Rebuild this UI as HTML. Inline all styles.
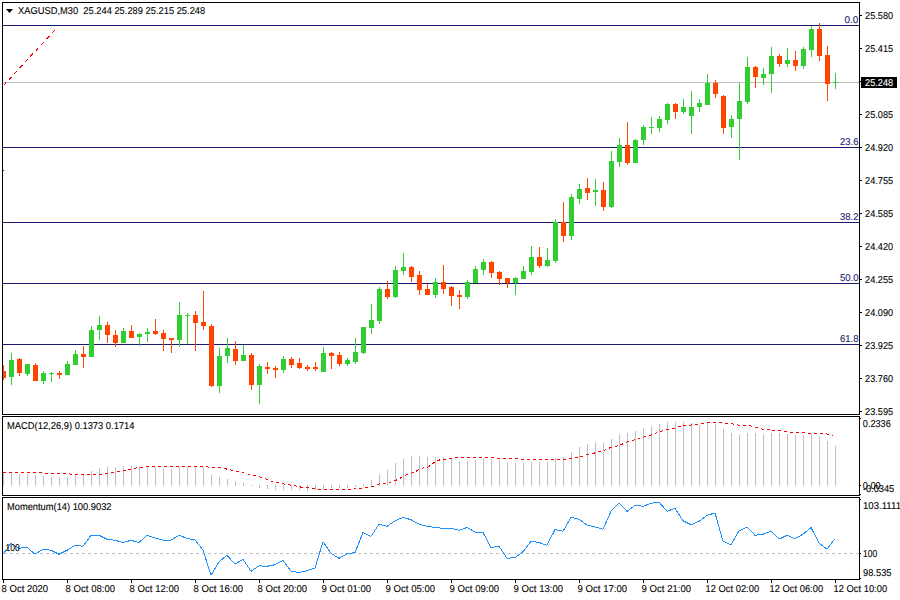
<!DOCTYPE html><html><head><meta charset="utf-8"><style>html,body{margin:0;padding:0;background:#fff;width:900px;height:600px;overflow:hidden}svg{display:block}text{font-family:"Liberation Sans",sans-serif;font-size:9.95px;text-rendering:geometricPrecision}</style></head><body>
<svg width="900" height="600" viewBox="0 0 900 600">
<rect x="0" y="0" width="900" height="600" fill="#fff"/>
<defs><clipPath id="cm"><rect x="3" y="3" width="856" height="411"/></clipPath><clipPath id="cd"><rect x="3" y="417" width="856" height="78"/></clipPath><clipPath id="cp"><rect x="3" y="498" width="856" height="81"/></clipPath></defs>
<g clip-path="url(#cm)" shape-rendering="crispEdges">
<rect x="3" y="25" width="856" height="1" fill="#191970"/>
<rect x="3" y="147" width="856" height="1" fill="#191970"/>
<rect x="3" y="222" width="856" height="1" fill="#191970"/>
<rect x="3" y="283" width="856" height="1" fill="#191970"/>
<rect x="3" y="344" width="856" height="1" fill="#191970"/>
<rect x="3" y="82" width="856" height="1" fill="#C0C0C0"/>
</g>
<g clip-path="url(#cm)"><line x1="2.5" y1="86.5" x2="56.5" y2="28.3" stroke="#FF0000" stroke-width="1.1" stroke-dasharray="4 3.9" stroke-dashoffset="-1.5" shape-rendering="crispEdges"/></g>
<g clip-path="url(#cm)" shape-rendering="crispEdges">
<rect x="3" y="365" width="1" height="15" fill="#FF4500"/>
<rect x="1" y="371" width="5" height="7" fill="#FF4500"/>
<rect x="11" y="353" width="1" height="32" fill="#32CD32"/>
<rect x="9" y="360" width="5" height="17" fill="#32CD32"/>
<rect x="19" y="358" width="1" height="18" fill="#FF4500"/>
<rect x="17" y="359" width="5" height="14" fill="#FF4500"/>
<rect x="27" y="364" width="1" height="12" fill="#32CD32"/>
<rect x="25" y="364" width="5" height="10" fill="#32CD32"/>
<rect x="35" y="363" width="1" height="18" fill="#FF4500"/>
<rect x="33" y="365" width="5" height="16" fill="#FF4500"/>
<rect x="43" y="371" width="1" height="13" fill="#32CD32"/>
<rect x="41" y="373" width="5" height="8" fill="#32CD32"/>
<rect x="51" y="372" width="1" height="10" fill="#32CD32"/>
<rect x="49" y="373" width="5" height="1" fill="#32CD32"/>
<rect x="59" y="371" width="1" height="8" fill="#FF4500"/>
<rect x="57" y="373" width="5" height="2" fill="#FF4500"/>
<rect x="67" y="361" width="1" height="14" fill="#32CD32"/>
<rect x="65" y="364" width="5" height="11" fill="#32CD32"/>
<rect x="75" y="350" width="1" height="15" fill="#32CD32"/>
<rect x="73" y="354" width="5" height="11" fill="#32CD32"/>
<rect x="83" y="346" width="1" height="22" fill="#FF4500"/>
<rect x="81" y="354" width="5" height="3" fill="#FF4500"/>
<rect x="91" y="326" width="1" height="31" fill="#32CD32"/>
<rect x="89" y="330" width="5" height="27" fill="#32CD32"/>
<rect x="99" y="316" width="1" height="24" fill="#32CD32"/>
<rect x="97" y="325" width="5" height="5" fill="#32CD32"/>
<rect x="107" y="322" width="1" height="21" fill="#FF4500"/>
<rect x="105" y="325" width="5" height="10" fill="#FF4500"/>
<rect x="115" y="330" width="1" height="17" fill="#FF4500"/>
<rect x="113" y="335" width="5" height="8" fill="#FF4500"/>
<rect x="123" y="328" width="1" height="15" fill="#32CD32"/>
<rect x="121" y="331" width="5" height="12" fill="#32CD32"/>
<rect x="131" y="325" width="1" height="13" fill="#FF4500"/>
<rect x="129" y="331" width="5" height="7" fill="#FF4500"/>
<rect x="139" y="333" width="1" height="13" fill="#32CD32"/>
<rect x="137" y="334" width="5" height="3" fill="#32CD32"/>
<rect x="147" y="328" width="1" height="14" fill="#32CD32"/>
<rect x="145" y="332" width="5" height="2" fill="#32CD32"/>
<rect x="155" y="319" width="1" height="16" fill="#FF4500"/>
<rect x="153" y="331" width="5" height="3" fill="#FF4500"/>
<rect x="163" y="330" width="1" height="21" fill="#FF4500"/>
<rect x="161" y="333" width="5" height="6" fill="#FF4500"/>
<rect x="171" y="338" width="1" height="15" fill="#FF4500"/>
<rect x="169" y="338" width="5" height="2" fill="#FF4500"/>
<rect x="179" y="302" width="1" height="45" fill="#32CD32"/>
<rect x="177" y="315" width="5" height="25" fill="#32CD32"/>
<rect x="187" y="313" width="1" height="31" fill="#32CD32"/>
<rect x="185" y="315" width="5" height="1" fill="#32CD32"/>
<rect x="195" y="311" width="1" height="40" fill="#FF4500"/>
<rect x="193" y="315" width="5" height="8" fill="#FF4500"/>
<rect x="203" y="291" width="1" height="39" fill="#FF4500"/>
<rect x="201" y="322" width="5" height="4" fill="#FF4500"/>
<rect x="211" y="324" width="1" height="63" fill="#FF4500"/>
<rect x="209" y="326" width="5" height="60" fill="#FF4500"/>
<rect x="219" y="348" width="1" height="45" fill="#32CD32"/>
<rect x="217" y="356" width="5" height="30" fill="#32CD32"/>
<rect x="227" y="338" width="1" height="25" fill="#32CD32"/>
<rect x="225" y="348" width="5" height="8" fill="#32CD32"/>
<rect x="235" y="341" width="1" height="24" fill="#FF4500"/>
<rect x="233" y="349" width="5" height="12" fill="#FF4500"/>
<rect x="243" y="345" width="1" height="16" fill="#32CD32"/>
<rect x="241" y="355" width="5" height="6" fill="#32CD32"/>
<rect x="251" y="353" width="1" height="37" fill="#FF4500"/>
<rect x="249" y="355" width="5" height="30" fill="#FF4500"/>
<rect x="259" y="364" width="1" height="40" fill="#32CD32"/>
<rect x="257" y="366" width="5" height="19" fill="#32CD32"/>
<rect x="267" y="362" width="1" height="12" fill="#FF4500"/>
<rect x="265" y="367" width="5" height="2" fill="#FF4500"/>
<rect x="275" y="366" width="1" height="12" fill="#FF4500"/>
<rect x="273" y="368" width="5" height="2" fill="#FF4500"/>
<rect x="283" y="356" width="1" height="17" fill="#32CD32"/>
<rect x="281" y="359" width="5" height="11" fill="#32CD32"/>
<rect x="291" y="357" width="1" height="11" fill="#FF4500"/>
<rect x="289" y="359" width="5" height="6" fill="#FF4500"/>
<rect x="299" y="358" width="1" height="11" fill="#FF4500"/>
<rect x="297" y="363" width="5" height="5" fill="#FF4500"/>
<rect x="307" y="365" width="1" height="6" fill="#FF4500"/>
<rect x="305" y="367" width="5" height="2" fill="#FF4500"/>
<rect x="315" y="362" width="1" height="9" fill="#FF4500"/>
<rect x="313" y="367" width="5" height="2" fill="#FF4500"/>
<rect x="323" y="347" width="1" height="25" fill="#32CD32"/>
<rect x="321" y="353" width="5" height="19" fill="#32CD32"/>
<rect x="331" y="352" width="1" height="17" fill="#FF4500"/>
<rect x="329" y="353" width="5" height="3" fill="#FF4500"/>
<rect x="339" y="352" width="1" height="14" fill="#FF4500"/>
<rect x="337" y="355" width="5" height="9" fill="#FF4500"/>
<rect x="347" y="358" width="1" height="8" fill="#32CD32"/>
<rect x="345" y="360" width="5" height="4" fill="#32CD32"/>
<rect x="355" y="338" width="1" height="26" fill="#32CD32"/>
<rect x="353" y="352" width="5" height="10" fill="#32CD32"/>
<rect x="363" y="327" width="1" height="27" fill="#32CD32"/>
<rect x="361" y="327" width="5" height="26" fill="#32CD32"/>
<rect x="371" y="304" width="1" height="30" fill="#32CD32"/>
<rect x="369" y="320" width="5" height="8" fill="#32CD32"/>
<rect x="379" y="287" width="1" height="37" fill="#32CD32"/>
<rect x="377" y="289" width="5" height="32" fill="#32CD32"/>
<rect x="387" y="281" width="1" height="18" fill="#FF4500"/>
<rect x="385" y="289" width="5" height="8" fill="#FF4500"/>
<rect x="395" y="266" width="1" height="32" fill="#32CD32"/>
<rect x="393" y="270" width="5" height="27" fill="#32CD32"/>
<rect x="403" y="253" width="1" height="22" fill="#32CD32"/>
<rect x="401" y="267" width="5" height="4" fill="#32CD32"/>
<rect x="411" y="266" width="1" height="16" fill="#FF4500"/>
<rect x="409" y="267" width="5" height="10" fill="#FF4500"/>
<rect x="419" y="271" width="1" height="24" fill="#FF4500"/>
<rect x="417" y="275" width="5" height="15" fill="#FF4500"/>
<rect x="427" y="284" width="1" height="11" fill="#FF4500"/>
<rect x="425" y="289" width="5" height="6" fill="#FF4500"/>
<rect x="435" y="278" width="1" height="20" fill="#32CD32"/>
<rect x="433" y="282" width="5" height="13" fill="#32CD32"/>
<rect x="443" y="265" width="1" height="29" fill="#FF4500"/>
<rect x="441" y="282" width="5" height="7" fill="#FF4500"/>
<rect x="451" y="286" width="1" height="20" fill="#FF4500"/>
<rect x="449" y="287" width="5" height="9" fill="#FF4500"/>
<rect x="459" y="290" width="1" height="19" fill="#FF4500"/>
<rect x="457" y="295" width="5" height="2" fill="#FF4500"/>
<rect x="467" y="280" width="1" height="19" fill="#32CD32"/>
<rect x="465" y="282" width="5" height="15" fill="#32CD32"/>
<rect x="475" y="266" width="1" height="17" fill="#32CD32"/>
<rect x="473" y="269" width="5" height="14" fill="#32CD32"/>
<rect x="483" y="259" width="1" height="16" fill="#32CD32"/>
<rect x="481" y="262" width="5" height="8" fill="#32CD32"/>
<rect x="491" y="261" width="1" height="17" fill="#FF4500"/>
<rect x="489" y="262" width="5" height="11" fill="#FF4500"/>
<rect x="499" y="271" width="1" height="14" fill="#FF4500"/>
<rect x="497" y="272" width="5" height="7" fill="#FF4500"/>
<rect x="507" y="278" width="1" height="10" fill="#FF4500"/>
<rect x="505" y="278" width="5" height="5" fill="#FF4500"/>
<rect x="515" y="277" width="1" height="18" fill="#32CD32"/>
<rect x="513" y="278" width="5" height="5" fill="#32CD32"/>
<rect x="523" y="266" width="1" height="13" fill="#32CD32"/>
<rect x="521" y="271" width="5" height="8" fill="#32CD32"/>
<rect x="531" y="246" width="1" height="29" fill="#32CD32"/>
<rect x="529" y="257" width="5" height="15" fill="#32CD32"/>
<rect x="539" y="247" width="1" height="21" fill="#FF4500"/>
<rect x="537" y="257" width="5" height="9" fill="#FF4500"/>
<rect x="547" y="248" width="1" height="19" fill="#32CD32"/>
<rect x="545" y="260" width="5" height="6" fill="#32CD32"/>
<rect x="555" y="219" width="1" height="44" fill="#32CD32"/>
<rect x="553" y="222" width="5" height="39" fill="#32CD32"/>
<rect x="563" y="202" width="1" height="40" fill="#FF4500"/>
<rect x="561" y="222" width="5" height="14" fill="#FF4500"/>
<rect x="571" y="194" width="1" height="46" fill="#32CD32"/>
<rect x="569" y="197" width="5" height="39" fill="#32CD32"/>
<rect x="579" y="184" width="1" height="20" fill="#32CD32"/>
<rect x="577" y="189" width="5" height="10" fill="#32CD32"/>
<rect x="587" y="178" width="1" height="22" fill="#FF4500"/>
<rect x="585" y="188" width="5" height="5" fill="#FF4500"/>
<rect x="595" y="179" width="1" height="27" fill="#32CD32"/>
<rect x="593" y="190" width="5" height="2" fill="#32CD32"/>
<rect x="603" y="182" width="1" height="29" fill="#FF4500"/>
<rect x="601" y="190" width="5" height="17" fill="#FF4500"/>
<rect x="611" y="151" width="1" height="57" fill="#32CD32"/>
<rect x="609" y="161" width="5" height="46" fill="#32CD32"/>
<rect x="619" y="138" width="1" height="29" fill="#32CD32"/>
<rect x="617" y="145" width="5" height="17" fill="#32CD32"/>
<rect x="627" y="122" width="1" height="43" fill="#FF4500"/>
<rect x="625" y="145" width="5" height="18" fill="#FF4500"/>
<rect x="635" y="139" width="1" height="24" fill="#32CD32"/>
<rect x="633" y="140" width="5" height="23" fill="#32CD32"/>
<rect x="643" y="125" width="1" height="20" fill="#32CD32"/>
<rect x="641" y="127" width="5" height="13" fill="#32CD32"/>
<rect x="651" y="117" width="1" height="17" fill="#32CD32"/>
<rect x="649" y="127" width="5" height="1" fill="#32CD32"/>
<rect x="659" y="116" width="1" height="16" fill="#32CD32"/>
<rect x="657" y="119" width="5" height="9" fill="#32CD32"/>
<rect x="667" y="103" width="1" height="21" fill="#32CD32"/>
<rect x="665" y="104" width="5" height="16" fill="#32CD32"/>
<rect x="675" y="103" width="1" height="16" fill="#FF4500"/>
<rect x="673" y="104" width="5" height="8" fill="#FF4500"/>
<rect x="683" y="99" width="1" height="15" fill="#32CD32"/>
<rect x="681" y="107" width="5" height="5" fill="#32CD32"/>
<rect x="691" y="91" width="1" height="43" fill="#32CD32"/>
<rect x="689" y="107" width="5" height="9" fill="#32CD32"/>
<rect x="699" y="99" width="1" height="13" fill="#32CD32"/>
<rect x="697" y="103" width="5" height="4" fill="#32CD32"/>
<rect x="707" y="74" width="1" height="31" fill="#32CD32"/>
<rect x="705" y="83" width="5" height="22" fill="#32CD32"/>
<rect x="715" y="80" width="1" height="18" fill="#FF4500"/>
<rect x="713" y="83" width="5" height="11" fill="#FF4500"/>
<rect x="723" y="95" width="1" height="39" fill="#FF4500"/>
<rect x="721" y="96" width="5" height="32" fill="#FF4500"/>
<rect x="731" y="115" width="1" height="23" fill="#32CD32"/>
<rect x="729" y="119" width="5" height="8" fill="#32CD32"/>
<rect x="739" y="83" width="1" height="77" fill="#32CD32"/>
<rect x="737" y="101" width="5" height="18" fill="#32CD32"/>
<rect x="747" y="57" width="1" height="47" fill="#32CD32"/>
<rect x="745" y="67" width="5" height="35" fill="#32CD32"/>
<rect x="755" y="66" width="1" height="22" fill="#FF4500"/>
<rect x="753" y="67" width="5" height="10" fill="#FF4500"/>
<rect x="763" y="68" width="1" height="17" fill="#32CD32"/>
<rect x="761" y="74" width="5" height="4" fill="#32CD32"/>
<rect x="771" y="47" width="1" height="46" fill="#32CD32"/>
<rect x="769" y="56" width="5" height="18" fill="#32CD32"/>
<rect x="779" y="54" width="1" height="13" fill="#FF4500"/>
<rect x="777" y="56" width="5" height="8" fill="#FF4500"/>
<rect x="787" y="48" width="1" height="19" fill="#32CD32"/>
<rect x="785" y="60" width="5" height="4" fill="#32CD32"/>
<rect x="795" y="51" width="1" height="20" fill="#FF4500"/>
<rect x="793" y="60" width="5" height="6" fill="#FF4500"/>
<rect x="803" y="47" width="1" height="22" fill="#32CD32"/>
<rect x="801" y="49" width="5" height="17" fill="#32CD32"/>
<rect x="811" y="26" width="1" height="31" fill="#32CD32"/>
<rect x="809" y="29" width="5" height="21" fill="#32CD32"/>
<rect x="819" y="23" width="1" height="38" fill="#FF4500"/>
<rect x="817" y="29" width="5" height="27" fill="#FF4500"/>
<rect x="827" y="46" width="1" height="55" fill="#FF4500"/>
<rect x="825" y="55" width="5" height="29" fill="#FF4500"/>
<rect x="835" y="73" width="1" height="16" fill="#32CD32"/>
<rect x="833" y="82" width="5" height="1" fill="#32CD32"/>
</g>
<g clip-path="url(#cd)" shape-rendering="crispEdges">
<rect x="3" y="472" width="1" height="14" fill="#C0C0C0"/>
<rect x="11" y="472" width="1" height="14" fill="#C0C0C0"/>
<rect x="19" y="474" width="1" height="12" fill="#C0C0C0"/>
<rect x="27" y="474" width="1" height="12" fill="#C0C0C0"/>
<rect x="35" y="475" width="1" height="11" fill="#C0C0C0"/>
<rect x="43" y="476" width="1" height="10" fill="#C0C0C0"/>
<rect x="51" y="477" width="1" height="9" fill="#C0C0C0"/>
<rect x="59" y="477" width="1" height="9" fill="#C0C0C0"/>
<rect x="67" y="477" width="1" height="9" fill="#C0C0C0"/>
<rect x="75" y="474" width="1" height="12" fill="#C0C0C0"/>
<rect x="83" y="475" width="1" height="11" fill="#C0C0C0"/>
<rect x="91" y="471" width="1" height="15" fill="#C0C0C0"/>
<rect x="99" y="468" width="1" height="18" fill="#C0C0C0"/>
<rect x="107" y="467" width="1" height="19" fill="#C0C0C0"/>
<rect x="115" y="467" width="1" height="19" fill="#C0C0C0"/>
<rect x="123" y="466" width="1" height="20" fill="#C0C0C0"/>
<rect x="131" y="466" width="1" height="20" fill="#C0C0C0"/>
<rect x="139" y="466" width="1" height="20" fill="#C0C0C0"/>
<rect x="147" y="467" width="1" height="19" fill="#C0C0C0"/>
<rect x="155" y="467" width="1" height="19" fill="#C0C0C0"/>
<rect x="163" y="468" width="1" height="18" fill="#C0C0C0"/>
<rect x="171" y="469" width="1" height="17" fill="#C0C0C0"/>
<rect x="179" y="467" width="1" height="19" fill="#C0C0C0"/>
<rect x="187" y="467" width="1" height="19" fill="#C0C0C0"/>
<rect x="195" y="467" width="1" height="19" fill="#C0C0C0"/>
<rect x="203" y="467" width="1" height="19" fill="#C0C0C0"/>
<rect x="211" y="475" width="1" height="11" fill="#C0C0C0"/>
<rect x="219" y="477" width="1" height="9" fill="#C0C0C0"/>
<rect x="227" y="479" width="1" height="7" fill="#C0C0C0"/>
<rect x="235" y="481" width="1" height="5" fill="#C0C0C0"/>
<rect x="243" y="483" width="1" height="3" fill="#C0C0C0"/>
<rect x="251" y="485" width="1" height="1" fill="#C0C0C0"/>
<rect x="259" y="485" width="1" height="3" fill="#C0C0C0"/>
<rect x="267" y="485" width="1" height="4" fill="#C0C0C0"/>
<rect x="275" y="485" width="1" height="5" fill="#C0C0C0"/>
<rect x="283" y="485" width="1" height="5" fill="#C0C0C0"/>
<rect x="291" y="485" width="1" height="5" fill="#C0C0C0"/>
<rect x="299" y="485" width="1" height="5" fill="#C0C0C0"/>
<rect x="307" y="485" width="1" height="6" fill="#C0C0C0"/>
<rect x="315" y="485" width="1" height="5" fill="#C0C0C0"/>
<rect x="323" y="485" width="1" height="4" fill="#C0C0C0"/>
<rect x="331" y="485" width="1" height="3" fill="#C0C0C0"/>
<rect x="339" y="485" width="1" height="3" fill="#C0C0C0"/>
<rect x="347" y="485" width="1" height="3" fill="#C0C0C0"/>
<rect x="355" y="485" width="1" height="2" fill="#C0C0C0"/>
<rect x="363" y="484" width="1" height="2" fill="#C0C0C0"/>
<rect x="371" y="480" width="1" height="6" fill="#C0C0C0"/>
<rect x="379" y="474" width="1" height="12" fill="#C0C0C0"/>
<rect x="387" y="470" width="1" height="16" fill="#C0C0C0"/>
<rect x="395" y="463" width="1" height="23" fill="#C0C0C0"/>
<rect x="403" y="459" width="1" height="27" fill="#C0C0C0"/>
<rect x="411" y="456" width="1" height="30" fill="#C0C0C0"/>
<rect x="419" y="456" width="1" height="30" fill="#C0C0C0"/>
<rect x="427" y="457" width="1" height="29" fill="#C0C0C0"/>
<rect x="435" y="457" width="1" height="29" fill="#C0C0C0"/>
<rect x="443" y="457" width="1" height="29" fill="#C0C0C0"/>
<rect x="451" y="459" width="1" height="27" fill="#C0C0C0"/>
<rect x="459" y="461" width="1" height="25" fill="#C0C0C0"/>
<rect x="467" y="461" width="1" height="25" fill="#C0C0C0"/>
<rect x="475" y="460" width="1" height="26" fill="#C0C0C0"/>
<rect x="483" y="458" width="1" height="28" fill="#C0C0C0"/>
<rect x="491" y="459" width="1" height="27" fill="#C0C0C0"/>
<rect x="499" y="460" width="1" height="26" fill="#C0C0C0"/>
<rect x="507" y="462" width="1" height="24" fill="#C0C0C0"/>
<rect x="515" y="463" width="1" height="23" fill="#C0C0C0"/>
<rect x="523" y="463" width="1" height="23" fill="#C0C0C0"/>
<rect x="531" y="462" width="1" height="24" fill="#C0C0C0"/>
<rect x="539" y="462" width="1" height="24" fill="#C0C0C0"/>
<rect x="547" y="462" width="1" height="24" fill="#C0C0C0"/>
<rect x="555" y="458" width="1" height="28" fill="#C0C0C0"/>
<rect x="563" y="457" width="1" height="29" fill="#C0C0C0"/>
<rect x="571" y="452" width="1" height="34" fill="#C0C0C0"/>
<rect x="579" y="447" width="1" height="39" fill="#C0C0C0"/>
<rect x="587" y="444" width="1" height="42" fill="#C0C0C0"/>
<rect x="595" y="442" width="1" height="44" fill="#C0C0C0"/>
<rect x="603" y="443" width="1" height="43" fill="#C0C0C0"/>
<rect x="611" y="439" width="1" height="47" fill="#C0C0C0"/>
<rect x="619" y="434" width="1" height="52" fill="#C0C0C0"/>
<rect x="627" y="433" width="1" height="53" fill="#C0C0C0"/>
<rect x="635" y="431" width="1" height="55" fill="#C0C0C0"/>
<rect x="643" y="428" width="1" height="58" fill="#C0C0C0"/>
<rect x="651" y="426" width="1" height="60" fill="#C0C0C0"/>
<rect x="659" y="424" width="1" height="62" fill="#C0C0C0"/>
<rect x="667" y="422" width="1" height="64" fill="#C0C0C0"/>
<rect x="675" y="422" width="1" height="64" fill="#C0C0C0"/>
<rect x="683" y="422" width="1" height="64" fill="#C0C0C0"/>
<rect x="691" y="423" width="1" height="63" fill="#C0C0C0"/>
<rect x="699" y="425" width="1" height="61" fill="#C0C0C0"/>
<rect x="707" y="423" width="1" height="63" fill="#C0C0C0"/>
<rect x="715" y="424" width="1" height="62" fill="#C0C0C0"/>
<rect x="723" y="429" width="1" height="57" fill="#C0C0C0"/>
<rect x="731" y="433" width="1" height="53" fill="#C0C0C0"/>
<rect x="739" y="435" width="1" height="51" fill="#C0C0C0"/>
<rect x="747" y="433" width="1" height="53" fill="#C0C0C0"/>
<rect x="755" y="433" width="1" height="53" fill="#C0C0C0"/>
<rect x="763" y="434" width="1" height="52" fill="#C0C0C0"/>
<rect x="771" y="433" width="1" height="53" fill="#C0C0C0"/>
<rect x="779" y="433" width="1" height="53" fill="#C0C0C0"/>
<rect x="787" y="434" width="1" height="52" fill="#C0C0C0"/>
<rect x="795" y="435" width="1" height="51" fill="#C0C0C0"/>
<rect x="803" y="435" width="1" height="51" fill="#C0C0C0"/>
<rect x="811" y="434" width="1" height="52" fill="#C0C0C0"/>
<rect x="819" y="436" width="1" height="50" fill="#C0C0C0"/>
<rect x="827" y="441" width="1" height="45" fill="#C0C0C0"/>
<rect x="835" y="446" width="1" height="40" fill="#C0C0C0"/>
</g>
<g clip-path="url(#cd)"><polyline points="3,472.0 35,472.8 60,473.5 85,474.8 100,474.5 115,472.0 125,470.3 135,468.2 147,466.5 206,466.5 208,467.0 222,468.0 245,473.2 252,475.0 262,477.5 273,481.8 287,484.5 295,485.8 298,486.7 307,487.8 323,489.8 347,489.8 357,488.7 365,487.8 373,486.5 380,483.7 390,482.5 397,479.8 407,474.5 415,472.0 420,468.7 428,467.0 435,462.0 440,459.8 450,458.7 456.7,457.0 485,457.0 490,457.8 516.7,458.7 521.7,459.8 563.3,459.8 571.7,458.7 580,457.0 586.7,454.8 591.7,454.2 596.7,452.0 603.3,450.8 610,447.8 618.3,445.8 623.3,443.7 628.3,441.5 635,439.8 641.7,437.8 650,435.3 658.3,432.0 666.7,429.5 675,428.2 681.7,425.8 693.3,424.8 700,423.7 711.7,422.0 723,422.8 733.3,424.0 738.3,425.0 750,425.8 756.7,427.8 763.3,429.2 775,430.3 783.3,431.2 790,432.0 826.7,434.0 833.3,435.3" fill="none" stroke="#FF0000" stroke-width="1" stroke-dasharray="3 3" shape-rendering="crispEdges"/></g>
<g clip-path="url(#cp)">
<line x1="4" y1="553.5" x2="859" y2="553.5" stroke="#C0C0C0" stroke-width="1" stroke-dasharray="3 3" shape-rendering="crispEdges"/>
<polyline points="3,554.3 11,543.3 19,548.3 27,547.3 35,554.2 43,549.2 51,550.3 59,554.2 67,550.3 75,545.3 83,546.3 91,535.3 99,535.3 107,539.2 115,540.3 123,542.5 131,540.3 139,542.5 147,535.3 155,538 163,540 171,540 179,535.3 187,538.3 195,540 203,550 211,575.3 219,561.7 227,555.3 235,564.2 243,559.2 251,571.3 259,565.8 267,566.3 275,564.7 283,560.3 291,571.3 299,572.5 307,570.8 315,568 323,541.7 331,553.3 339,558.3 347,553.7 355,552.5 363,532.5 371,536.3 379,524.2 387,526.3 395,520.8 403,517.5 411,519.7 419,524.2 427,526.3 435,527.5 443,528.3 451,528.3 459,530.3 467,527.5 475,532 483,532.5 491,547.5 499,546.3 507,558.3 515,557.5 523,551.7 531,541.3 539,542.5 547,545.3 555,529.5 563,531.3 571,517.2 579,519.2 587,525 595,527 603,529.2 611,511.3 619,503 627,511.3 635,505.3 643,506.3 651,503.3 659,502 667,511.3 675,508.3 683,520.8 691,524.7 699,521.3 707,515.3 715,513 723,541.2 731,544.7 739,530.8 747,527 755,535.3 763,534.2 771,531.3 779,539.2 787,535.3 795,538.7 803,534.2 811,527.5 819,543 827,549.2 835,538.7" fill="none" stroke="#1E90FF" stroke-width="1" shape-rendering="crispEdges"/>
</g>
<g shape-rendering="crispEdges" fill="#000">
<rect x="2" y="2" width="858" height="1"/>
<rect x="2" y="414" width="858" height="1"/>
<rect x="2" y="2" width="1" height="413"/>
<rect x="859" y="2" width="1" height="413"/>
<rect x="2" y="416" width="858" height="1"/>
<rect x="2" y="495" width="858" height="1"/>
<rect x="2" y="416" width="1" height="80"/>
<rect x="859" y="416" width="1" height="80"/>
<rect x="2" y="497" width="858" height="1"/>
<rect x="2" y="579" width="858" height="1"/>
<rect x="2" y="497" width="1" height="83"/>
<rect x="859" y="497" width="1" height="83"/>
<rect x="860" y="15" width="2" height="1"/>
<rect x="860" y="48" width="2" height="1"/>
<rect x="860" y="81" width="2" height="1"/>
<rect x="860" y="114" width="2" height="1"/>
<rect x="860" y="147" width="2" height="1"/>
<rect x="860" y="180" width="2" height="1"/>
<rect x="860" y="213" width="2" height="1"/>
<rect x="860" y="246" width="2" height="1"/>
<rect x="860" y="279" width="2" height="1"/>
<rect x="860" y="312" width="2" height="1"/>
<rect x="860" y="345" width="2" height="1"/>
<rect x="860" y="378" width="2" height="1"/>
<rect x="860" y="411" width="2" height="1"/>
<rect x="860" y="418" width="1" height="1"/>
<rect x="860" y="485" width="1" height="1"/>
<rect x="860" y="494" width="1" height="1"/>
<rect x="860" y="499" width="1" height="1"/>
<rect x="860" y="553" width="1" height="1"/>
<rect x="860" y="578" width="1" height="1"/>
<rect x="3" y="580" width="1" height="3"/>
<rect x="67" y="580" width="1" height="3"/>
<rect x="131" y="580" width="1" height="3"/>
<rect x="195" y="580" width="1" height="3"/>
<rect x="259" y="580" width="1" height="3"/>
<rect x="323" y="580" width="1" height="3"/>
<rect x="387" y="580" width="1" height="3"/>
<rect x="451" y="580" width="1" height="3"/>
<rect x="515" y="580" width="1" height="3"/>
<rect x="579" y="580" width="1" height="3"/>
<rect x="643" y="580" width="1" height="3"/>
<rect x="707" y="580" width="1" height="3"/>
<rect x="771" y="580" width="1" height="3"/>
<rect x="835" y="580" width="1" height="3"/>

</g>
<rect x="3" y="170" width="1" height="1" fill="#191970"/>
<rect x="861" y="77" width="36" height="11" fill="#000"/>
<rect x="860" y="81" width="1" height="1" fill="#000"/>
<polygon points="6,9 13,9 9.5,13" fill="#000"/>
<text x="18" y="14" textLength="187.2" lengthAdjust="spacingAndGlyphs" fill="#000" stroke="#000" stroke-width="0.1">XAGUSD,M30&#160;&#160;25.244 25.289 25.215 25.248</text>
<text x="7" y="429" textLength="127.5" lengthAdjust="spacingAndGlyphs" fill="#000" stroke="#000" stroke-width="0.1">MACD(12,26,9) 0.1373 0.1714</text>
<text x="7" y="510" textLength="104.5" lengthAdjust="spacingAndGlyphs" fill="#000" stroke="#000" stroke-width="0.1">Momentum(14) 100.9032</text>
<text x="865.1" y="19" textLength="28" lengthAdjust="spacingAndGlyphs" fill="#000" stroke="#000" stroke-width="0.1">25.580</text>
<text x="865.1" y="52" textLength="28" lengthAdjust="spacingAndGlyphs" fill="#000" stroke="#000" stroke-width="0.1">25.415</text>
<text x="865.1" y="118" textLength="28" lengthAdjust="spacingAndGlyphs" fill="#000" stroke="#000" stroke-width="0.1">25.085</text>
<text x="865.1" y="151" textLength="28" lengthAdjust="spacingAndGlyphs" fill="#000" stroke="#000" stroke-width="0.1">24.920</text>
<text x="865.1" y="184" textLength="28" lengthAdjust="spacingAndGlyphs" fill="#000" stroke="#000" stroke-width="0.1">24.755</text>
<text x="865.1" y="217" textLength="28" lengthAdjust="spacingAndGlyphs" fill="#000" stroke="#000" stroke-width="0.1">24.585</text>
<text x="865.1" y="250" textLength="28" lengthAdjust="spacingAndGlyphs" fill="#000" stroke="#000" stroke-width="0.1">24.420</text>
<text x="865.1" y="283" textLength="28" lengthAdjust="spacingAndGlyphs" fill="#000" stroke="#000" stroke-width="0.1">24.255</text>
<text x="865.1" y="316" textLength="28" lengthAdjust="spacingAndGlyphs" fill="#000" stroke="#000" stroke-width="0.1">24.090</text>
<text x="865.1" y="349" textLength="28" lengthAdjust="spacingAndGlyphs" fill="#000" stroke="#000" stroke-width="0.1">23.925</text>
<text x="865.1" y="382" textLength="28" lengthAdjust="spacingAndGlyphs" fill="#000" stroke="#000" stroke-width="0.1">23.760</text>
<text x="865.1" y="415" textLength="28" lengthAdjust="spacingAndGlyphs" fill="#000" stroke="#000" stroke-width="0.1">23.595</text>
<text x="865.1" y="86" textLength="28" lengthAdjust="spacingAndGlyphs" fill="#fff" stroke="#fff" stroke-width="0.1">25.248</text>
<text x="840" y="145" textLength="18.5" lengthAdjust="spacingAndGlyphs" fill="#191970" stroke="#191970" stroke-width="0.1">23.6</text>
<text x="844.6" y="23" textLength="13.8" lengthAdjust="spacingAndGlyphs" fill="#191970" stroke="#191970" stroke-width="0.1">0.0</text>
<text x="840" y="220" textLength="18.5" lengthAdjust="spacingAndGlyphs" fill="#191970" stroke="#191970" stroke-width="0.1">38.2</text>
<text x="840" y="281" textLength="18.5" lengthAdjust="spacingAndGlyphs" fill="#191970" stroke="#191970" stroke-width="0.1">50.0</text>
<text x="840" y="342" textLength="18.5" lengthAdjust="spacingAndGlyphs" fill="#191970" stroke="#191970" stroke-width="0.1">61.8</text>
<text x="862.8" y="427" textLength="28" lengthAdjust="spacingAndGlyphs" fill="#000" stroke="#000" stroke-width="0.1">0.2336</text>
<text x="862.8" y="489" textLength="17.8" lengthAdjust="spacingAndGlyphs" fill="#000" stroke="#000" stroke-width="0.1">0.00</text>
<text x="862.8" y="492" textLength="31.5" lengthAdjust="spacingAndGlyphs" fill="#000" stroke="#000" stroke-width="0.1">-0.0345</text>
<text x="863" y="509" textLength="38" lengthAdjust="spacingAndGlyphs" fill="#000" stroke="#000" stroke-width="0.1">103.1111</text>
<text x="863" y="557" textLength="14.2" lengthAdjust="spacingAndGlyphs" fill="#000" stroke="#000" stroke-width="0.1">100</text>
<text x="863" y="576" textLength="28.5" lengthAdjust="spacingAndGlyphs" fill="#000" stroke="#000" stroke-width="0.1">98.535</text>
<text x="5.6" y="551" textLength="14.2" lengthAdjust="spacingAndGlyphs" fill="#000" stroke="#000" stroke-width="0.1">100</text>
<text x="1.6" y="592" textLength="46.5" lengthAdjust="spacingAndGlyphs" fill="#000" stroke="#000" stroke-width="0.1">8 Oct 2020</text>
<text x="65.6" y="592" textLength="49.5" lengthAdjust="spacingAndGlyphs" fill="#000" stroke="#000" stroke-width="0.1">8 Oct 08:00</text>
<text x="129.6" y="592" textLength="49.5" lengthAdjust="spacingAndGlyphs" fill="#000" stroke="#000" stroke-width="0.1">8 Oct 12:00</text>
<text x="193.6" y="592" textLength="49.5" lengthAdjust="spacingAndGlyphs" fill="#000" stroke="#000" stroke-width="0.1">8 Oct 16:00</text>
<text x="257.6" y="592" textLength="49.5" lengthAdjust="spacingAndGlyphs" fill="#000" stroke="#000" stroke-width="0.1">8 Oct 20:00</text>
<text x="321.6" y="592" textLength="49.5" lengthAdjust="spacingAndGlyphs" fill="#000" stroke="#000" stroke-width="0.1">9 Oct 01:00</text>
<text x="385.6" y="592" textLength="49.5" lengthAdjust="spacingAndGlyphs" fill="#000" stroke="#000" stroke-width="0.1">9 Oct 05:00</text>
<text x="449.6" y="592" textLength="49.5" lengthAdjust="spacingAndGlyphs" fill="#000" stroke="#000" stroke-width="0.1">9 Oct 09:00</text>
<text x="513.6" y="592" textLength="49.5" lengthAdjust="spacingAndGlyphs" fill="#000" stroke="#000" stroke-width="0.1">9 Oct 13:00</text>
<text x="577.6" y="592" textLength="49.5" lengthAdjust="spacingAndGlyphs" fill="#000" stroke="#000" stroke-width="0.1">9 Oct 17:00</text>
<text x="641.6" y="592" textLength="49.5" lengthAdjust="spacingAndGlyphs" fill="#000" stroke="#000" stroke-width="0.1">9 Oct 21:00</text>
<text x="705.6" y="592" textLength="53.5" lengthAdjust="spacingAndGlyphs" fill="#000" stroke="#000" stroke-width="0.1">12 Oct 02:00</text>
<text x="769.6" y="592" textLength="53.5" lengthAdjust="spacingAndGlyphs" fill="#000" stroke="#000" stroke-width="0.1">12 Oct 06:00</text>
<text x="833.6" y="592" textLength="53.5" lengthAdjust="spacingAndGlyphs" fill="#000" stroke="#000" stroke-width="0.1">12 Oct 10:00</text>
</svg></body></html>
